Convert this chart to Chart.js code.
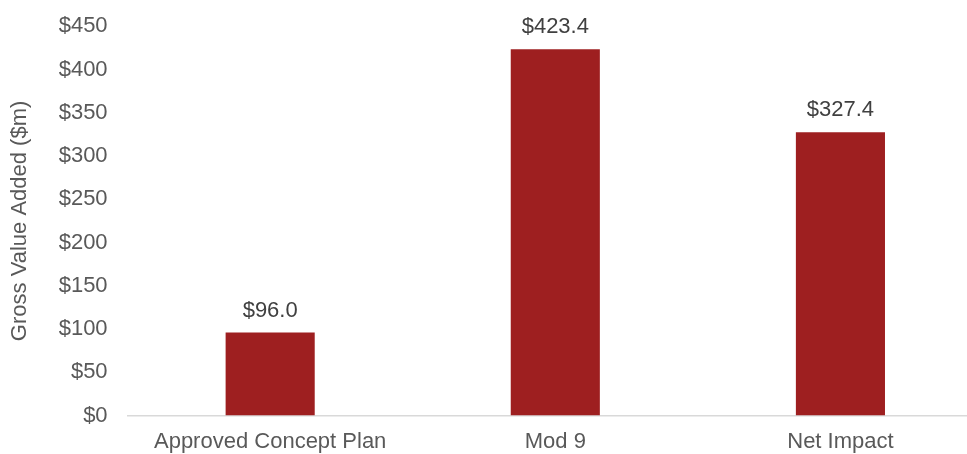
<!DOCTYPE html>
<html>
<head>
<meta charset="utf-8">
<script src="https://cdn.jsdelivr.net/npm/chart.js@4/dist/chart.umd.min.js"></script>
<style>
  html, body { margin: 0; padding: 0; background: #fff; overflow: hidden; }
  #wrap { width: 983px; height: 475px; margin-top: -7px; }
</style>
</head>
<body>
<div id="wrap"><canvas id="gva"></canvas></div>
<script>
// Gross value added by scenario ($m)
const categories = ['Approved Concept Plan', 'Mod 9', 'Net Impact'];
const gvaValues = [96.0, 423.4, 327.4];
const yTicks = [0, 50, 100, 150, 200, 250, 300, 350, 400, 450];

const FONT = "'Liberation Sans', Arial, sans-serif";
const BAR_RED = '#9E1F20';
const TICK_GREY = '#595959';
const LABEL_GREY = '#404040';

// Value labels above each bar
const barLabels = {
  id: 'barLabels',
  afterDatasetsDraw(chart) {
    const ctx = chart.ctx;
    const meta = chart.getDatasetMeta(0);
    ctx.save();
    ctx.font = '22px ' + FONT;
    ctx.fillStyle = LABEL_GREY;
    ctx.textAlign = 'center';
    ctx.textBaseline = 'middle';
    meta.data.forEach((bar, i) => {
      ctx.fillText('$' + gvaValues[i].toFixed(1), bar.x, bar.y - 22);
    });
    ctx.restore();
  }
};

new Chart(document.getElementById('gva'), {
  type: 'bar',
  data: {
    labels: categories,
    datasets: [{
      data: gvaValues,
      backgroundColor: BAR_RED,
      borderWidth: 0,
      barPercentage: 0.3125,
      categoryPercentage: 1
    }]
  },
  options: {
    responsive: true,
    maintainAspectRatio: false,
    animation: false,
    layout: { padding: 0 },
    plugins: {
      legend: { display: false },
      tooltip: { enabled: false }
    },
    scales: {
      x: {
        grid: { display: false, drawTicks: false },
        border: { display: true, color: '#D9D9D9', width: 1.5 },
        ticks: {
          color: TICK_GREY,
          font: { family: FONT, size: 22 },
          padding: 13,
          maxRotation: 0
        }
      },
      y: {
        min: 0,
        max: 450,
        afterBuildTicks(scale) {
          scale.ticks = yTicks.map(v => ({ value: v }));
        },
        afterFit(scale) {
          scale.width = 127.6;
        },
        grid: { display: false, drawTicks: false },
        border: { display: false },
        ticks: {
          color: TICK_GREY,
          font: { family: FONT, size: 22 },
          padding: 20,
          callback: v => '$' + v
        },
        title: {
          display: true,
          text: 'Gross Value Added ($m)',
          color: TICK_GREY,
          font: { family: FONT, size: 22 },
          padding: { top: 7, bottom: 0 }
        }
      }
    }
  },
  plugins: [barLabels]
});
</script>
</body>
</html>
